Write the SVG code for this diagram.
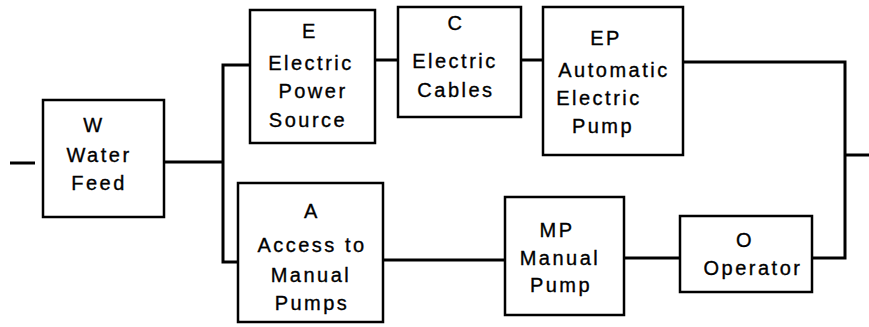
<svg xmlns="http://www.w3.org/2000/svg" width="869" height="327" viewBox="0 0 869 327">
<style>
.box{fill:#fff;stroke:#000;stroke-width:2.5}
.ln{fill:none;stroke:#000;stroke-width:3}
text{font-family:"Liberation Sans",Arial,sans-serif;font-size:20px;letter-spacing:2.5px;fill:#000;stroke:#000;stroke-width:0.35;text-anchor:middle}
</style>
<rect width="869" height="327" fill="#fff"/>
<g id="connectors">
<path class="ln" d="M10 163H35"/>
<path class="ln" d="M164 162H223"/>
<path class="ln" d="M250 65H223V262H238"/>
<path class="ln" d="M375 60H398"/>
<path class="ln" d="M521 60H543"/>
<path class="ln" d="M383 260H505"/>
<path class="ln" d="M624 258H680"/>
<path class="ln" d="M683 62H845V258H812"/>
<path class="ln" d="M845 155H869"/>
</g>
<g id="W">
<rect class="box" x="43" y="100" width="121" height="117"/>
<text x="94" y="132">W</text>
<text x="99" y="162">Water</text>
<text x="99" y="190">Feed</text>
</g>
<g id="E">
<rect class="box" x="250" y="10" width="125" height="133"/>
<text x="310" y="38">E</text>
<text x="311" y="70">Electric</text>
<text x="313" y="98">Power</text>
<text x="308" y="127">Source</text>
</g>
<g id="C">
<rect class="box" x="398" y="7" width="123" height="110"/>
<text x="456" y="30">C</text>
<text x="455" y="68">Electric</text>
<text x="456" y="97">Cables</text>
</g>
<g id="EP">
<rect class="box" x="543" y="7" width="140" height="148"/>
<text x="606" y="45">EP</text>
<text x="614" y="77">Automatic</text>
<text x="599" y="105">Electric</text>
<text x="603" y="133">Pump</text>
</g>
<g id="A">
<rect class="box" x="238" y="183" width="145" height="139"/>
<text x="312" y="218">A</text>
<text x="312" y="252">Access to</text>
<text x="311" y="282">Manual</text>
<text x="312" y="310">Pumps</text>
</g>
<g id="MP">
<rect class="box" x="505" y="197" width="119" height="118"/>
<text x="557" y="237">MP</text>
<text x="560" y="265">Manual</text>
<text x="561" y="292">Pump</text>
</g>
<g id="O">
<rect class="box" x="680" y="216" width="132" height="76"/>
<text x="745" y="247">O</text>
<text x="753" y="275">Operator</text>
</g>
</svg>
